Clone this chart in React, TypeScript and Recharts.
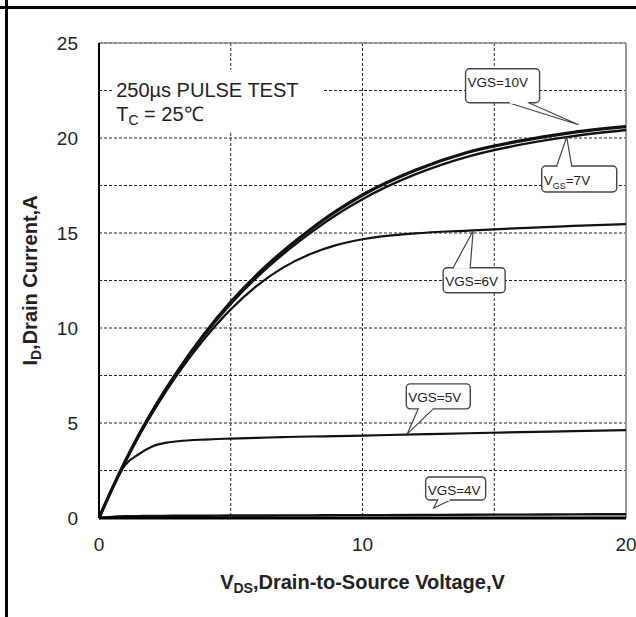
import React from 'react'
import {
  LineChart,
  Line,
  XAxis,
  YAxis,
  CartesianGrid,
  ReferenceLine,
  ReferenceDot,
} from 'recharts'

// drain-source voltage samples (V)
const vds = [0, 0.5, 1, 1.5, 2, 2.5, 3, 4, 5, 6, 7, 8, 9, 10, 12, 14, 16, 18, 20]

// drain current (A) per gate voltage
const idVgs10 = [0, 1.55, 3.0, 4.34, 5.56, 6.7, 7.76, 9.69, 11.36, 12.81, 14.06, 15.16, 16.15, 17.0, 18.3, 19.25, 19.85, 20.3, 20.6]
const idVgs7 = [0, 1.55, 3.0, 4.33, 5.54, 6.67, 7.72, 9.62, 11.26, 12.68, 13.9, 14.98, 15.95, 16.78, 18.08, 19.02, 19.65, 20.1, 20.42]
const idVgs6 = [0, 1.52, 2.95, 4.27, 5.46, 6.57, 7.6, 9.43, 10.98, 12.23, 13.19, 13.88, 14.36, 14.67, 14.98, 15.13, 15.26, 15.37, 15.47]
const idVgs5 = [0, 1.55, 2.8, 3.35, 3.75, 3.95, 4.04, 4.13, 4.18, 4.22, 4.26, 4.29, 4.31, 4.34, 4.4, 4.46, 4.52, 4.57, 4.62]
const idVgs4 = [0, 0.06, 0.09, 0.1, 0.11, 0.11, 0.12, 0.12, 0.13, 0.13, 0.14, 0.14, 0.15, 0.15, 0.16, 0.17, 0.18, 0.19, 0.2]

const xTicks = [0, 5, 10, 15, 20]
const yTicks = [0, 2.5, 5, 7.5, 10, 12.5, 15, 17.5, 20, 22.5, 25]

// callout labels and the point each one points at
const calloutLabels = ['VGS=10V', 'V_GS_=7V', 'VGS=6V', 'VGS=5V', 'VGS=4V']
const calloutVds = [18.2, 17.75, 14.2, 11.7, 12.7]
const calloutId = [20.7, 20.05, 15.12, 4.43, 0.53]

const noteLines = ['250µs PULSE TEST', 'T_C_ = 25℃']
const noteAnchor = { vds: 0.5, id: 23.6 }

// pixel layout of callout boxes relative to the tip
const calloutBoxes = [
  { dx: -113, dy: -56, w: 74, h: 34, b1: -70, b2: -50 },
  { dx: -25, dy: 29, w: 75, h: 26, b1: -10, b2: 5 },
  { dx: -30, dy: 37, w: 62, h: 25, b1: -20, b2: -3 },
  { dx: -1, dy: -50, w: 64, h: 25, b1: 11, b2: 26 },
  { dx: -8, dy: -31, w: 60, h: 23, b1: 4, b2: 17 },
]

const rows = vds.map((v, i) => ({
  vds: v,
  vgs10: idVgs10[i],
  vgs7: idVgs7[i],
  vgs6: idVgs6[i],
  vgs5: idVgs5[i],
  vgs4: idVgs4[i],
}))

const FONT = '"Liberation Sans", Arial, sans-serif'

function SubText({ text, subSize }: { text: string; subSize: number }) {
  const parts = text.split('_')
  if (parts.length < 3) return <>{text}</>
  return (
    <>
      {parts[0]}
      <tspan fontSize={subSize} dy={4}>{parts[1]}</tspan>
      <tspan dy={-4}>{parts[2]}</tspan>
    </>
  )
}

function Callout(props: any) {
  const { cx, cy, idx } = props
  if (cx == null || cy == null) return null
  const b = calloutBoxes[idx]
  const left = cx + b.dx
  const top = cy + b.dy
  const baseY = b.dy > 0 ? top : top + b.h
  const p1 = cx + b.b1
  const p2 = cx + b.b2
  return (
    <g>
      <rect x={left} y={top} width={b.w} height={b.h} rx={4} fill="#fff" stroke="#444" strokeWidth={1.4} />
      <path d={`M${p1},${baseY} L${cx},${cy} L${p2},${baseY}`} fill="#fff" stroke="#444" strokeWidth={1.2} />
      <line x1={p1 + 1} y1={baseY} x2={p2 - 1} y2={baseY} stroke="#fff" strokeWidth={2} />
      <text x={left + 2} y={top + 18.5} fontSize={13.5} fontFamily={FONT} fill="#222">
        <SubText text={calloutLabels[idx]} subSize={9} />
      </text>
    </g>
  )
}

function PulseNote(props: any) {
  const { cx, cy } = props
  if (cx == null || cy == null) return null
  return (
    <g>
      <rect x={cx} y={cy} width={210} height={62} fill="#fff" />
      {noteLines.map((line, i) => (
        <text key={i} x={cx + 4} y={cy + 27 + i * 24} fontSize={20} fontFamily={FONT} fill="#222">
          <SubText text={line} subSize={14} />
        </text>
      ))}
    </g>
  )
}

function XTitle({ viewBox }: any) {
  const { x, y, width } = viewBox
  return (
    <text x={x + width / 2} y={y + 71} textAnchor="middle" fontSize={20} fontWeight="bold" fontFamily={FONT} fill="#222">
      <SubText text="V_DS_,Drain-to-Source Voltage,V" subSize={14} />
    </text>
  )
}

function YTitle({ viewBox }: any) {
  const { x, y, height } = viewBox
  const tx = x + 17
  const ty = y + height / 2
  return (
    <text x={tx} y={ty} textAnchor="middle" transform={`rotate(-90, ${tx}, ${ty})`} fontSize={20} fontWeight="bold" fontFamily={FONT} fill="#222">
      <SubText text="I_D_,Drain Current,A" subSize={14} />
    </text>
  )
}

const series = [
  { key: 'vgs10', width: 3.2 },
  { key: 'vgs7', width: 2.4 },
  { key: 'vgs6', width: 2.2 },
  { key: 'vgs5', width: 2.2 },
  { key: 'vgs4', width: 2.4 },
]

export default function App() {
  return (
    <div style={{ position: 'absolute', left: 0, top: 0, width: 636, height: 617, background: '#fff' }}>
      <div style={{ position: 'absolute', left: 0, top: 6, width: 636, height: 3, background: '#000' }} />
      <div style={{ position: 'absolute', left: 5, top: 0, width: 3, height: 617, background: '#000' }} />
      <LineChart width={636} height={617} data={rows} margin={{ top: 43, right: 10, bottom: 39, left: 20 }}>
        <CartesianGrid stroke="#222" strokeDasharray="3 2" strokeWidth={1} />
        <XAxis
          type="number"
          dataKey="vds"
          domain={[0, 20]}
          ticks={xTicks}
          tickFormatter={(v) => (v % 10 === 0 ? String(v) : '')}
          height={60}
          tickLine={false}
          tickMargin={14}
          axisLine={{ stroke: '#000', strokeWidth: 3 }}
          tick={{ fill: '#222', fontSize: 19, fontFamily: FONT }}
          label={(p: any) => <XTitle viewBox={p.viewBox} />}
        />
        <YAxis
          type="number"
          domain={[0, 25]}
          ticks={yTicks}
          tickFormatter={(v) => (v % 5 === 0 ? String(v) : '')}
          width={79}
          tickLine={false}
          tickMargin={15}
          axisLine={{ stroke: '#000', strokeWidth: 2 }}
          tick={{ fill: '#222', fontSize: 19, fontFamily: FONT }}
          label={(p: any) => <YTitle viewBox={p.viewBox} />}
        />
        <ReferenceLine y={25} stroke="#8a8a8a" strokeWidth={1.5} />
        <ReferenceLine x={20} stroke="#999" strokeWidth={2} />
        {series.map((s) => (
          <Line
            key={s.key}
            type="monotone"
            dataKey={s.key}
            stroke="#111"
            strokeWidth={s.width}
            dot={false}
            activeDot={false}
            isAnimationActive={false}
          />
        ))}
        <ReferenceDot
          x={noteAnchor.vds}
          y={noteAnchor.id}
          r={1}
          shape={(p: any) => <PulseNote {...p} />}
        />
        {calloutLabels.map((label, i) => (
          <ReferenceDot
            key={label}
            x={calloutVds[i]}
            y={calloutId[i]}
            r={1}
            shape={(p: any) => <Callout {...p} idx={i} />}
          />
        ))}
      </LineChart>
    </div>
  )
}
